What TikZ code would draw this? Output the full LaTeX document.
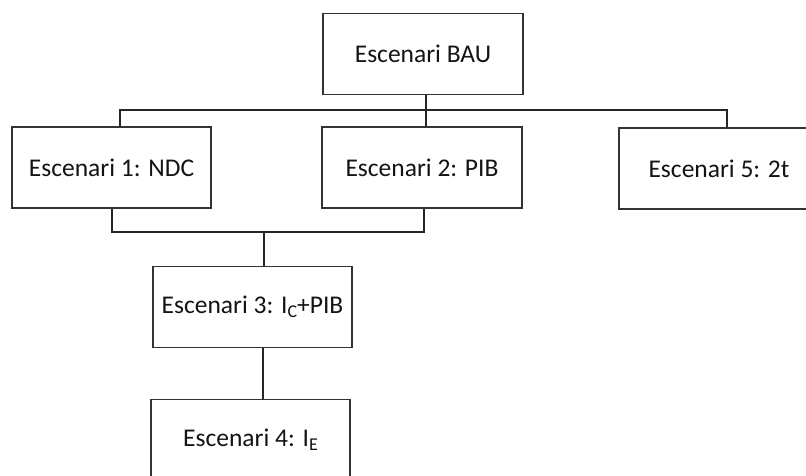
\documentclass[tikz,border=0pt]{standalone}
\usepackage{fontspec}
\setmainfont{Carlito}
\newcommand{\mysubs}[1]{\raisebox{-0.35ex}{\fontsize{18}{20}\selectfont #1}}
\begin{document}
\begin{tikzpicture}[x=1pt,y=-1pt,
  box/.style={draw=black!80,line width=1.3pt,fill=white,minimum width=200pt,minimum height=81pt,inner sep=0pt,
    font=\fontsize{25.5}{30}\selectfont,text=black!92},
  conn/.style={draw=black!85,line width=1.1pt}]
\useasboundingbox[fill=white] (0,0) rectangle (806,475);
\node[box] (bau) at (423,54) {Escenari BAU};
\node[box,minimum width=199pt] (s1) at (111.5,167.5) {Escenari 1: NDC};
\node[box] (s2) at (422,167.5) {Escenari 2: PIB};
\node[box] (s5) at (719,168.5) {Escenari 5: 2t};
\node[box,minimum width=199pt] (s3) at (252.5,307) {Escenari 3: I\mysubs{C}+PIB};
\node[box,minimum width=199pt] (s4) at (250.5,440) {Escenari 4: I\mysubs{E}};
% top junction
\coordinate (jt) at (426,110);
\coordinate (jl) at (120,110);
\coordinate (jr) at (727,110);
\draw[conn] (bau.south -| jt) -- (jt);
\draw[conn] (s1.north -| jl) -- (jl) -- (jr) -- (s5.north -| jr);
\draw[conn] (jt) -- (s2.north -| jt);
% bottom junction
\coordinate (bl) at (112,232);
\coordinate (br) at (424,232);
\coordinate (bm) at (264,232);
\draw[conn] (s1.south -| bl) -- (bl) -- (br) -- (s2.south -| br);
\draw[conn] (bm) -- (s3.north -| bm);
\coordinate (c34) at (263,348);
\draw[conn] (s3.south -| c34) -- (s4.north -| c34);
\end{tikzpicture}
\end{document}
